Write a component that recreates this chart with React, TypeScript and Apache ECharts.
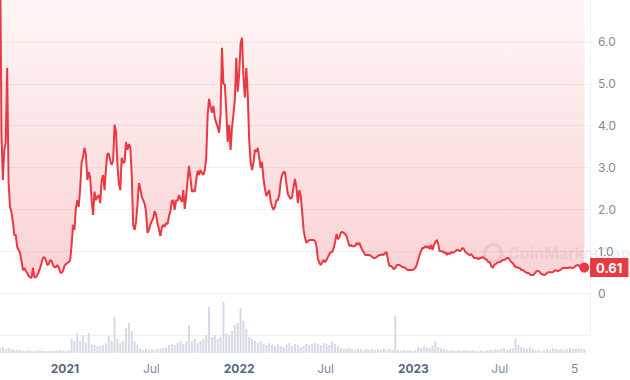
import React, { useEffect, useRef } from "react";
import * as echarts from "echarts";

const DAY = 86400000;

// Price (USD), one reading every 3 days starting 2020-08-18
const priceStart = "2020-08-18";
const priceStepDays = 3;
const prices = [
  8.5, 3.83, 2.70, 3.42, 3.59, 5.38, 2.63, 2.06, 1.94, 1.70,
  1.39, 1.39, 1.10, 1.03, 0.96, 0.77, 0.55, 0.60, 0.53, 0.48,
  0.41, 0.38, 0.36, 0.60, 0.38, 0.38, 0.43, 0.50, 0.60, 0.72,
  0.84, 0.86, 0.79, 0.67, 0.69, 0.79, 0.77, 0.67, 0.62, 0.62,
  0.67, 0.62, 0.50, 0.48, 0.53, 0.65, 0.69, 0.72, 0.74, 0.79,
  1.15, 1.63, 1.51, 2.03, 2.22, 2.06, 2.51, 3.13, 3.25, 3.47,
  3.30, 2.70, 2.89, 2.75, 2.22, 1.87, 2.42, 2.22, 2.30, 2.34,
  2.15, 2.70, 2.82, 2.46, 2.97, 3.33, 3.33, 3.16, 3.06, 3.16,
  4.02, 3.85, 3.06, 2.61, 2.46, 3.23, 3.11, 3.13, 3.61, 3.42,
  3.56, 3.47, 2.82, 1.63, 1.51, 1.70, 2.11, 2.63, 2.49, 2.30,
  2.22, 2.13, 1.94, 1.44, 1.51, 1.63, 1.72, 1.79, 1.96, 1.87,
  1.65, 1.53, 1.36, 1.56, 1.63, 1.58, 1.67, 1.65, 1.84, 1.96,
  2.20, 2.22, 1.99, 2.22, 2.20, 2.34, 2.25, 2.18, 2.46, 2.01,
  2.32, 2.70, 3.04, 2.75, 2.42, 2.46, 2.42, 2.70, 2.92, 2.82,
  2.94, 2.87, 2.82, 2.94, 3.23, 4.26, 4.64, 4.45, 4.31, 4.47,
  4.19, 4.07, 3.97, 3.83, 4.26, 5.86, 5.00, 4.98, 4.38, 3.61,
  4.02, 3.42, 3.95, 4.26, 4.62, 5.62, 4.81, 5.22, 5.96, 6.10,
  5.17, 4.67, 5.38, 4.74, 3.66, 3.13, 2.94, 3.11, 3.42, 3.37,
  3.47, 3.25, 2.99, 3.13, 2.73, 2.49, 2.32, 2.39, 2.46, 2.20,
  2.06, 1.99, 2.06, 2.22, 2.22, 2.34, 2.66, 2.82, 2.89, 2.89,
  2.61, 2.37, 2.30, 2.25, 2.30, 2.54, 2.73, 2.51, 2.15, 2.46,
  2.32, 1.94, 1.51, 1.32, 1.20, 1.24, 1.27, 1.27, 1.27, 1.27,
  1.24, 1.12, 0.81, 0.72, 0.67, 0.74, 0.79, 0.74, 0.79, 0.86,
  0.93, 0.98, 0.98, 1.08, 1.22, 1.41, 1.29, 1.34, 1.44, 1.46,
  1.44, 1.41, 1.36, 1.24, 1.12, 1.15, 1.12, 1.12, 1.12, 1.20,
  1.15, 1.20, 1.10, 1.03, 0.98, 0.91, 0.91, 0.91, 0.91, 0.89,
  0.86, 0.84, 0.84, 0.86, 0.89, 0.91, 0.91, 0.93, 0.91, 0.96,
  0.98, 0.77, 0.65, 0.65, 0.62, 0.57, 0.60, 0.67, 0.67, 0.67,
  0.65, 0.62, 0.62, 0.60, 0.57, 0.55, 0.55, 0.55, 0.55, 0.57,
  0.60, 0.67, 0.79, 0.91, 1.00, 1.08, 1.08, 1.12, 1.08, 1.12,
  1.05, 1.15, 1.03, 1.15, 1.22, 1.27, 1.17, 1.00, 1.00, 1.00,
  0.96, 0.98, 0.91, 0.96, 0.93, 0.98, 0.96, 0.98, 1.00, 1.03,
  1.03, 1.00, 1.03, 1.08, 1.05, 0.98, 0.96, 0.93, 0.91, 0.93,
  0.89, 0.84, 0.84, 0.84, 0.81, 0.84, 0.84, 0.86, 0.84, 0.81,
  0.79, 0.74, 0.74, 0.65, 0.60, 0.67, 0.69, 0.72, 0.74, 0.74,
  0.77, 0.79, 0.79, 0.81, 0.84, 0.84, 0.79, 0.74, 0.72, 0.67,
  0.62, 0.62, 0.60, 0.60, 0.55, 0.55, 0.53, 0.50, 0.48, 0.48,
  0.45, 0.43, 0.43, 0.45, 0.50, 0.53, 0.53, 0.50, 0.45, 0.45,
  0.43, 0.45, 0.48, 0.50, 0.50, 0.50, 0.50, 0.53, 0.55, 0.53,
  0.53, 0.55, 0.57, 0.60, 0.60, 0.60, 0.60, 0.60, 0.62, 0.60,
  0.60, 0.62, 0.65, 0.67, 0.67, 0.62, 0.65, 0.62, 0.61,
];

// Trading volume (USD millions), one reading every 6 days starting 2020-08-18
const volumeStart = "2020-08-18";
const volumeStepDays = 6;
const volumesM = [
  100, 120, 80, 100, 80, 60, 60,
  60, 40, 40, 60, 40, 40, 40, 60, 40, 40, 40, 40, 40, 40, 60, 40, 40, 60,
  280, 240, 400, 240, 360, 200, 400, 180, 160, 140,
  140, 160, 200, 340, 240, 720, 280, 200, 240, 500, 600, 440, 240, 160,
  80, 60, 80, 60, 80, 60, 80, 80, 100,
  100, 160, 180, 160, 200, 240, 180, 240, 560, 240, 280, 200, 240, 280, 360,
  920, 320, 360, 280, 320, 1020, 400, 360, 440, 560, 600, 900, 640, 480, 320, 280, 240, 200, 240, 180, 160,
  200, 160, 140, 180, 140, 120, 160, 200, 140, 180, 160, 120, 140, 180, 160, 180, 200, 180, 160, 200, 180, 160, 240, 180, 140,
  100, 80, 80, 100, 80, 60, 80, 80, 60, 80, 60, 80, 60, 80, 60, 100, 60, 80, 60,
  740,
  60, 40, 60, 40, 60, 40, 60,
  120, 100, 140, 120, 100, 160, 240, 120, 100, 80,
  60, 40, 60, 40, 60, 40, 60, 60, 40, 60, 40, 40, 60, 40, 60, 60,
  60, 80, 60, 80, 100, 60, 80, 100,
  300, 160, 120, 100, 80, 120, 80, 60,
  60, 40, 60, 80, 60, 100, 80, 60, 80, 60, 80, 100, 80, 80, 100, 80, 80,
];

const xAxisMin = "2020-08-18";
const xAxisMax = "2024-01-06";
const xLabelDates = ["2021-01-01", "2021-07-01", "2022-01-01", "2022-07-01", "2023-01-01", "2023-07-01", "2023-12-05"];
const xLabelTexts = ["2021", "Jul", "2022", "Jul", "2023", "Jul", "5"];
const xLabelBold = [true, false, true, false, true, false, false];

const RED = "#ea3943";

export default function App() {
  const ref = useRef<HTMLDivElement>(null);

  useEffect(() => {
    if (!ref.current) return;
    const chart = echarts.init(ref.current, null, { renderer: "svg" });

    const pStart = Date.parse(priceStart);
    const priceData = prices.map((v, i) => [pStart + i * priceStepDays * DAY, v]);
    const vStart = Date.parse(volumeStart);
    const volumeData = volumesM.map((v, i) => [vStart + i * volumeStepDays * DAY, v]);
    const last = priceData[priceData.length - 1];
    const labelTs = xLabelDates.map((d) => Date.parse(d));
    const min = Date.parse(xAxisMin);
    const max = Date.parse(xAxisMax);

    const labelFor = (val: number) => {
      let best = 0;
      let bd = Infinity;
      labelTs.forEach((t, i) => {
        const d = Math.abs(t - val);
        if (d < bd) { bd = d; best = i; }
      });
      return best;
    };

    const option: any = {
      animation: false,
      backgroundColor: "#ffffff",
      textStyle: { fontFamily: "Inter" },
      grid: [
        { left: 0, right: 40, top: 0, height: 335 },
        { left: 0, right: 40, top: 300, height: 53 },
      ],
      xAxis: [
        { type: "value", gridIndex: 0, min, max, show: false, splitLine: { show: false } },
        {
          type: "value",
          gridIndex: 1,
          min,
          max,
          axisLine: { show: false },
          axisTick: { show: false },
          splitLine: { show: false },
          axisLabel: {
            customValues: labelTs,
            margin: 9,
            formatter: (val: number) => {
              const b = labelFor(val);
              return xLabelBold[b] ? `{b|${xLabelTexts[b]}}` : `{n|${xLabelTexts[b]}}`;
            },
            rich: {
              b: { fontFamily: "Inter", fontSize: 12, fontWeight: "bold", color: "#58667e" },
              n: { fontFamily: "Inter", fontSize: 12, color: "#808a9d" },
            },
          },
        },
      ],
      yAxis: [
        {
          type: "value",
          gridIndex: 0,
          position: "right",
          min: -1,
          max: 7,
          interval: 1,
          axisLine: { show: true, lineStyle: { color: "#eff2f5" } },
          axisTick: { show: false },
          splitLine: { show: true, showMaxLine: false, lineStyle: { color: "#eff2f5" } },
          axisLabel: {
            margin: 8,
            color: "#808a9d",
            fontSize: 12,
            fontFamily: "Inter",
            formatter: (v: number) => (v < 0 || v > 6.5 ? "" : v === 0 ? "0" : v.toFixed(1)),
          },
        },
        { type: "value", gridIndex: 1, min: 0, max: 1060, show: false, splitLine: { show: false } },
      ],
      series: [
        {
          type: "bar",
          xAxisIndex: 1,
          yAxisIndex: 1,
          data: volumeData,
          barWidth: 2,
          silent: true,
          itemStyle: { color: "#d5dae4" },
        },
        {
          type: "line",
          xAxisIndex: 0,
          yAxisIndex: 0,
          data: priceData,
          showSymbol: false,
          silent: true,
          lineStyle: { color: RED, width: 2 },
          itemStyle: { color: RED },
          areaStyle: {
            origin: "end",
            color: new echarts.graphic.LinearGradient(0, 0, 0, 1, [
              { offset: 0, color: "rgba(234,57,67,0.01)" },
              { offset: 1, color: "rgba(234,57,67,0.32)" },
            ]),
          },
          markPoint: {
            silent: true,
            symbol: "circle",
            symbolSize: 10,
            itemStyle: { color: RED },
            label: { show: false },
            data: [{ coord: last }],
          },
          markLine: {
            silent: true,
            symbol: "none",
            lineStyle: { color: "rgba(0,0,0,0)", width: 0 },
            label: {
              show: true,
              position: "end",
              distance: 0,
              formatter: () => (last[1] as number).toFixed(2),
              backgroundColor: RED,
              color: "#ffffff",
              opacity: 1,
              fontFamily: "Inter",
              fontWeight: "bold",
              fontSize: 13,
              padding: [3, 6, 3, 6],
            },
            data: [{ yAxis: last[1] }],
          },
        },
      ],
      graphic: [
        {
          type: "ring",
          z: 50,
          shape: { cx: 493, cy: 253, r: 10, r0: 7 },
          style: { fill: "rgba(128,138,157,0.16)" },
          silent: true,
        },
        {
          type: "text",
          z: 50,
          x: 508,
          y: 253,
          silent: true,
          style: {
            text: "CoinMarketCap",
            font: "bold 16px Inter",
            fill: "rgba(128,138,157,0.14)",
            verticalAlign: "middle",
          },
        },
      ],
    };

    chart.setOption(option);
    return () => chart.dispose();
  }, []);

  return <div ref={ref} style={{ position: "fixed", left: 0, top: 0, width: 630, height: 380 }} />;
}
